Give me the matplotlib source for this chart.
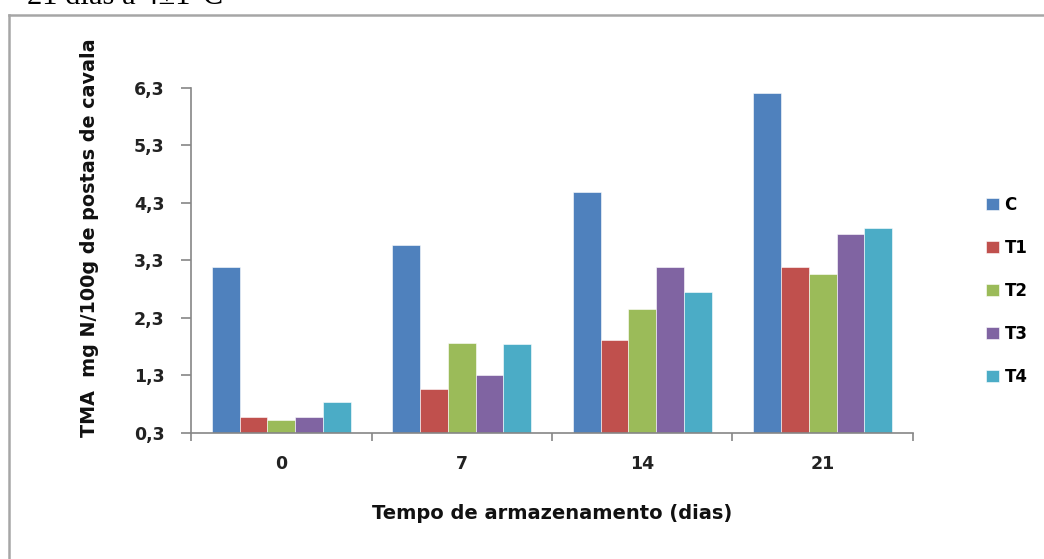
import matplotlib.pyplot as plt
import numpy as np
from matplotlib.lines import Line2D

# dados
dias = ["0", "7", "14", "21"]
series = ["C", "T1", "T2", "T3", "T4"]
c_vals = [3.18, 3.57, 4.49, 6.21]
t1_vals = [0.57, 1.07, 1.91, 3.18]
t2_vals = [0.53, 1.87, 2.45, 3.07]
t3_vals = [0.57, 1.30, 3.18, 3.76]
t4_vals = [0.84, 1.84, 2.76, 3.87]
y_ticks = [0.3, 1.3, 2.3, 3.3, 4.3, 5.3, 6.3]
cores = ["#4F81BD", "#C0504D", "#9BBB59", "#8064A2", "#4BACC6"]

valores = [c_vals, t1_vals, t2_vals, t3_vals, t4_vals]

plt.rcParams["font.family"] = ["DejaVu Sans"]

fig = plt.figure(figsize=(10.44, 5.59), dpi=100)
ax = fig.add_axes([0.183, 0.2254, 0.8745 - 0.183, 0.8426 - 0.2254])

x = np.arange(len(dias))
largura = 0.154
for i, (nome, vals) in enumerate(zip(series, valores)):
    desloc = (i - 2) * largura
    ax.bar(x + desloc, np.array(vals) - 0.3, largura, bottom=0.3,
           color=cores[i], edgecolor="white", linewidth=0.4, label=nome)

ax.set_xlim(-0.5, len(dias) - 0.5)
ax.set_ylim(0.3, 6.3)
ax.set_yticks(y_ticks)
ax.set_yticklabels([f"{v:.1f}".replace(".", ",") for v in y_ticks],
                   fontweight="bold", color="#222222")

# ticks do eixo x nas divisas dos grupos, rótulos no centro
ax.set_xticks(np.arange(len(dias) + 1) - 0.5)
ax.set_xticklabels([])
ax.set_xticks(x, minor=True)
ax.set_xticklabels(dias, minor=True, fontweight="bold", color="#222222")
ax.tick_params(axis="x", which="minor", length=0, pad=16, labelsize=12.5)
ax.tick_params(axis="x", which="major", length=6, width=1.2, color="#868686")
ax.tick_params(axis="y", length=7, width=1.2, color="#868686", labelsize=12.5, pad=12)

for lado in ["top", "right"]:
    ax.spines[lado].set_visible(False)
for lado in ["left", "bottom"]:
    ax.spines[lado].set_color("#868686")
    ax.spines[lado].set_linewidth(1.2)

ax.set_ylabel("TMA  mg N/100g de postas de cavala", fontsize=13.8,
              fontweight="bold", color="#111111")
ax.yaxis.set_label_coords(-0.128, 0.565)
ax.set_xlabel("Tempo de armazenamento (dias)", fontsize=14,
              fontweight="bold", color="#111111", labelpad=22)

ax.legend(loc="upper left", bbox_to_anchor=(1.092, 0.706), frameon=False,
          prop={"size": 12, "weight": "bold"}, handlelength=0.75,
          handleheight=0.75, handletextpad=0.35, labelspacing=1.5,
          borderaxespad=0)

# moldura externa (cortada à direita e embaixo)
fig.add_artist(Line2D([0.0086, 0.0086], [0, 0.973], color="#A6A6A6", lw=1.8))
fig.add_artist(Line2D([0.0086, 1.0], [0.973, 0.973], color="#A6A6A6", lw=1.8))

# legenda do documento cortada no topo
fig.text(0.026, 1 - 4 / 559, "21 dias a 4\u00b11\u00b0C", fontsize=22,
         family="Liberation Serif", va="baseline", ha="left")

fig.savefig("out.png", dpi=100)
